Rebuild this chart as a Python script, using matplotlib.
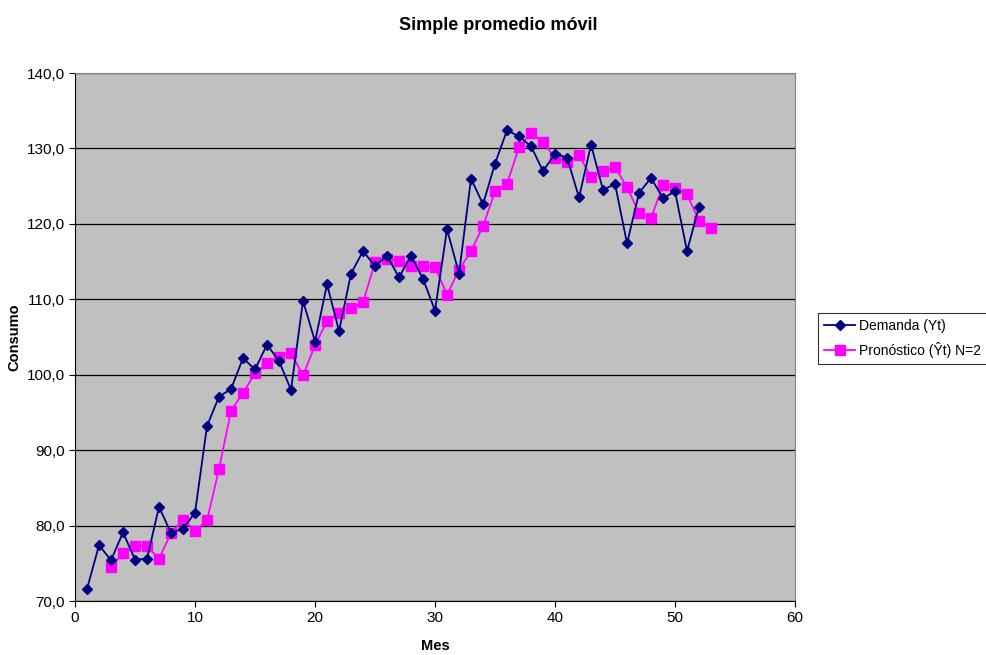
import matplotlib.pyplot as plt
import numpy as np

plt.rcParams['font.family'] = ['Liberation Sans', 'DejaVu Sans']

# Demanda mensual (Yt), meses 1..52
mes_demanda = np.arange(1, 53)
demanda = [71.6, 77.4, 75.4, 79.1, 75.5, 75.6, 82.5, 79.0, 79.6, 81.7,
           93.2, 97.1, 98.1, 102.2, 100.7, 104.0, 101.8, 98.0, 109.8, 104.4,
           112.0, 105.8, 113.4, 116.4, 114.4, 115.8, 112.9, 115.8, 112.7, 108.5,
           119.3, 113.4, 126.0, 122.6, 128.0, 132.4, 131.6, 130.3, 127.0, 129.3,
           128.8, 123.5, 130.5, 124.5, 125.3, 117.4, 124.1, 126.1, 123.4, 124.3,
           116.4, 122.3]

# Pronóstico promedio móvil N=2, meses 3..53
mes_pronostico = np.arange(3, 54)
pronostico = [74.5, 76.4, 77.3, 77.3, 75.6, 79.0, 80.8, 79.3, 80.7, 87.5,
              95.2, 97.6, 100.2, 101.5, 102.4, 102.9, 99.9, 103.9, 107.1, 108.2,
              108.9, 109.6, 114.9, 115.4, 115.1, 114.4, 114.4, 114.3, 110.6, 113.9,
              116.4, 119.7, 124.3, 125.3, 130.2, 132.0, 130.9, 128.7, 128.2, 129.1,
              126.2, 127.0, 127.5, 124.9, 121.4, 120.8, 125.1, 124.8, 123.9, 120.4,
              119.4]

fig = plt.figure(figsize=(9.87, 6.55), dpi=100)
ax = fig.add_axes([0.076, 0.0824, 0.7295, 0.8061])
ax.set_facecolor('#C0C0C0')

ax.plot(mes_demanda, demanda, color='#000080', lw=1.3, marker='D', ms=5,
        label='Demanda (Yt)', zorder=4)
ax.plot(mes_pronostico, pronostico, color='#FF00FF', lw=1.3, marker='s', ms=7,
        label='Pronóstico (Ŷt) N=2', zorder=3)

ax.set_xlim(0, 60)
ax.set_ylim(70, 140)
ax.set_xticks(np.arange(0, 61, 10))
ax.set_yticks(np.arange(70, 141, 10))
ax.set_yticklabels([f'{v:.1f}'.replace('.', ',') for v in np.arange(70, 141, 10)])
ax.yaxis.grid(True, color='black', lw=0.9)
ax.set_axisbelow(True)
ax.tick_params(labelsize=11, length=4, color='black')

for side in ['top', 'right']:
    ax.spines[side].set_color('#808080')
for side in ['left', 'bottom']:
    ax.spines[side].set_color('#000000')

ax.set_xlabel('Mes', fontsize=10.5, fontweight='bold', labelpad=10)
ax.set_ylabel('Consumo', fontsize=10.5, fontweight='bold', labelpad=4)
fig.text(0.505, 0.974, 'Simple promedio móvil', ha='center', va='top',
         fontsize=13, fontweight='bold')

leg = ax.legend(loc='upper left', bbox_to_anchor=(0.829, 0.522),
                bbox_transform=fig.transFigure, borderaxespad=0,
                fontsize=10, frameon=True, fancybox=False, edgecolor='black',
                borderpad=0.45, handlelength=2.2, handletextpad=0.3,
                labelspacing=0.6)
leg.get_frame().set_linewidth(0.8)

fig.savefig('out.png', dpi=100)
